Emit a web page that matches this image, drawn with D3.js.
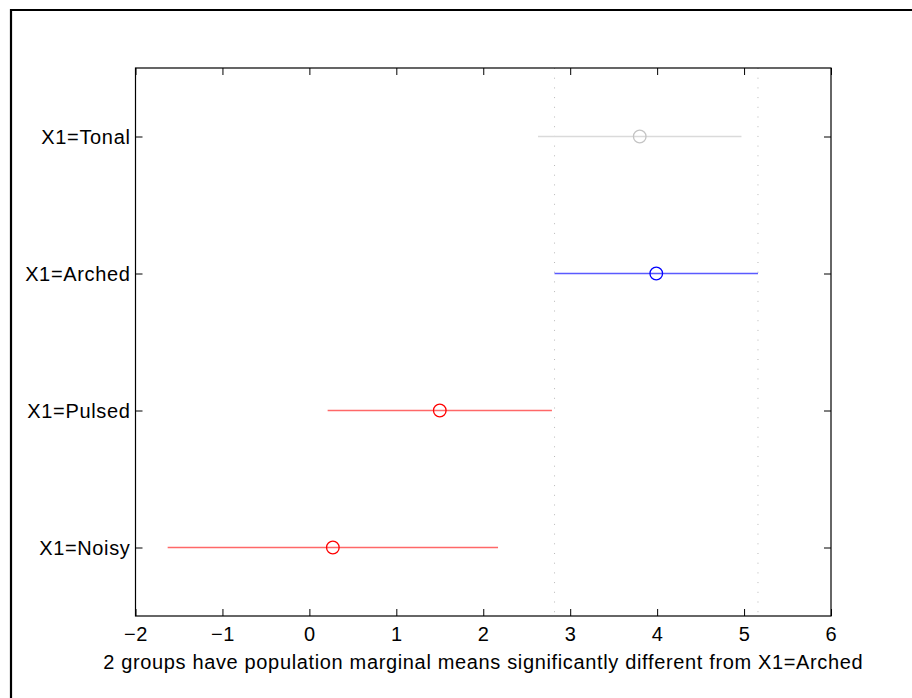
<!DOCTYPE html>
<html>
<head>
<meta charset="utf-8">
<script src="https://cdn.jsdelivr.net/npm/d3@7"></script>
<style>
  html, body { margin: 0; padding: 0; background: #fff; }
  svg { display: block; }
  text { font-family: "Liberation Sans", Arial, Helvetica, sans-serif; fill: #000; }
</style>
</head>
<body>
<svg id="chart" width="912" height="698"></svg>
<script>
// Group labels (top to bottom) and their marginal-mean estimates with comparison intervals
const groups = ["X1=Tonal", "X1=Arched", "X1=Pulsed", "X1=Noisy"];
const means  = [3.80, 3.99, 1.50, 0.27];
const lower  = [2.63, 2.82, 0.21, -1.63];
const upper  = [4.97, 5.16, 2.79, 2.17];
// Role of each group relative to the selected one: "sel", "diff" or "same"
const status = ["same", "sel", "diff", "diff"];
const xTicks = [-2, -1, 0, 1, 2, 3, 4, 5, 6];
const xLabel = "2 groups have population marginal means significantly different from X1=Arched";

const svg = d3.select("#chart");
const W = 912, H = 698;
const box = { left: 135.5, right: 831, top: 68, bottom: 616 };
const fontSize = 20, spacing = 0.65;

const palette = {
  sel:  { line: "#5a5aff", mark: "#0000ff" },
  diff: { line: "#ff6868", mark: "#ff0000" },
  same: { line: "#dadada", mark: "#c4c4c4" }
};

// Figure frame
svg.append("line").attr("x1", 10).attr("x2", W).attr("y1", 10).attr("y2", 10)
  .attr("stroke", "#000").attr("stroke-width", 2.2);
svg.append("line").attr("x1", 11).attr("x2", 11).attr("y1", 9).attr("y2", H)
  .attr("stroke", "#000").attr("stroke-width", 2.2);

const x = d3.scaleLinear().domain([-2, 6]).range([box.left, box.right]);
// Groups are placed at 4..1 from top to bottom, with half a slot of padding
const y = d3.scaleLinear().domain([0.5, 4.5]).range([box.bottom, box.top]);
const yPos = (i) => y(groups.length - i);

// Dotted guides at the selected group's interval
const selIdx = status.indexOf("sel");
[lower[selIdx], upper[selIdx]].forEach(v => {
  svg.append("line")
    .attr("x1", x(v)).attr("x2", x(v))
    .attr("y1", box.top).attr("y2", box.bottom)
    .attr("stroke", "#b8b8b8").attr("stroke-width", 1)
    .attr("stroke-dasharray", "1,8.7");
});

// Axes
const tickLen = 7;
const fmt = d => (d < 0 ? "\u2212" + Math.abs(d) : String(d));

const xAxisB = svg.append("g").attr("transform", `translate(0,${box.bottom})`)
  .call(d3.axisBottom(x).tickValues(xTicks).tickFormat(fmt).tickSizeInner(-tickLen).tickSizeOuter(0).tickPadding(11));
const xAxisT = svg.append("g").attr("transform", `translate(0,${box.top})`)
  .call(d3.axisTop(x).tickValues(xTicks).tickFormat("").tickSizeInner(-tickLen).tickSizeOuter(0));
const yAxisL = svg.append("g").attr("transform", `translate(${box.left},0)`)
  .call(d3.axisLeft(y).tickValues([4, 3, 2, 1]).tickFormat(d => groups[groups.length - d])
    .tickSizeInner(-tickLen).tickSizeOuter(0).tickPadding(5));
const yAxisR = svg.append("g").attr("transform", `translate(${box.right},0)`)
  .call(d3.axisRight(y).tickValues([4, 3, 2, 1]).tickFormat("").tickSizeInner(-tickLen).tickSizeOuter(0));

[xAxisB, xAxisT, yAxisL, yAxisR].forEach(g => {
  g.select(".domain").remove();
  g.selectAll(".tick line").attr("stroke", "#000").attr("stroke-width", 1);
  g.selectAll("text").attr("font-size", fontSize).attr("fill", "#000")
    .style("letter-spacing", spacing + "px")
    .style("font-family", "'Liberation Sans', Arial, sans-serif");
});
xAxisB.selectAll("text").attr("dy", "0.71em");
yAxisL.selectAll("text").attr("dy", "0.37em");

// Axes box
svg.append("rect")
  .attr("x", box.left).attr("y", box.top)
  .attr("width", box.right - box.left).attr("height", box.bottom - box.top)
  .attr("fill", "none").attr("stroke", "#000").attr("stroke-width", 1.2);

// Interval lines and mean markers
const marks = svg.append("g");
groups.forEach((g, i) => {
  const c = palette[status[i]];
  marks.append("line")
    .attr("x1", x(lower[i])).attr("x2", x(upper[i]))
    .attr("y1", yPos(i)).attr("y2", yPos(i))
    .attr("stroke", c.line).attr("stroke-width", 1.6);
  marks.append("circle")
    .attr("cx", x(means[i])).attr("cy", yPos(i)).attr("r", 6.3)
    .attr("fill", "none").attr("stroke", c.mark).attr("stroke-width", 1.3);
});

// X-axis caption
svg.append("text")
  .attr("x", (box.left + box.right) / 2).attr("y", 669)
  .attr("text-anchor", "middle").attr("font-size", fontSize)
  .style("letter-spacing", spacing + "px")
  .text(xLabel);
</script>
</body>
</html>
